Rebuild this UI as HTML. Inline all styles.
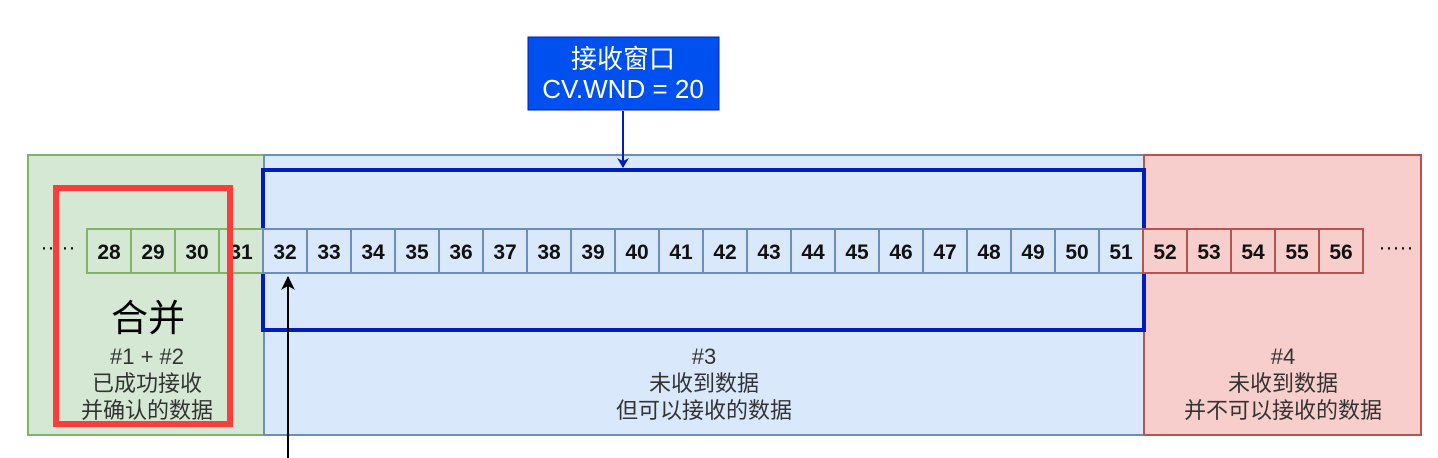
<!DOCTYPE html>
<html><head><meta charset="utf-8"><style>body{margin:0;background:#fff}svg{display:block}text{font-family:"Liberation Sans","Noto Sans CJK SC",sans-serif}</style></head><body>
<svg width="1438" height="458" viewBox="0 0 1438 458" xmlns="http://www.w3.org/2000/svg">
<defs>
<marker id="ab" markerWidth="10" markerHeight="12" refX="9" refY="6" orient="auto" markerUnits="userSpaceOnUse"><path d="M0,0 L10,6 L0,12 L3,6 z" fill="#001DBC"/></marker>
<marker id="ak" markerWidth="14" markerHeight="14" refX="13" refY="7" orient="auto" markerUnits="userSpaceOnUse"><path d="M0,0 L14,7 L0,14 L4,7 z" fill="#000"/></marker>
</defs>
<rect x="28" y="155" width="236" height="280" fill="#d5e8d4" stroke="#82b366" stroke-width="2"/>
<rect x="264" y="155" width="880" height="280" fill="#dae8fc" stroke="#6c8ebf" stroke-width="2"/>
<rect x="1144" y="155" width="277" height="280" fill="#f8cecc" stroke="#b85450" stroke-width="2"/>
<rect x="263" y="170" width="881" height="160" fill="none" stroke="#001DBC" stroke-width="4"/>
<g stroke-width="2">
<g fill="#d5e8d4" stroke="#82b366">
<rect x="87" y="229" width="44" height="44"/><rect x="131" y="229" width="44" height="44"/><rect x="175" y="229" width="44" height="44"/><rect x="219" y="229" width="44" height="44"/>
</g>
<g fill="#dae8fc" stroke="#6c8ebf">
<rect x="263" y="229" width="44" height="44"/><rect x="307" y="229" width="44" height="44"/><rect x="351" y="229" width="44" height="44"/><rect x="395" y="229" width="44" height="44"/><rect x="439" y="229" width="44" height="44"/><rect x="483" y="229" width="44" height="44"/><rect x="527" y="229" width="44" height="44"/><rect x="571" y="229" width="44" height="44"/><rect x="615" y="229" width="44" height="44"/><rect x="659" y="229" width="44" height="44"/><rect x="703" y="229" width="44" height="44"/><rect x="747" y="229" width="44" height="44"/><rect x="791" y="229" width="44" height="44"/><rect x="835" y="229" width="44" height="44"/><rect x="879" y="229" width="44" height="44"/><rect x="923" y="229" width="44" height="44"/><rect x="967" y="229" width="44" height="44"/><rect x="1011" y="229" width="44" height="44"/><rect x="1055" y="229" width="44" height="44"/><rect x="1099" y="229" width="44" height="44"/>
</g>
<g fill="#f8cecc" stroke="#b85450">
<rect x="1143" y="229" width="44" height="44"/><rect x="1187" y="229" width="44" height="44"/><rect x="1231" y="229" width="44" height="44"/><rect x="1275" y="229" width="44" height="44"/><rect x="1319" y="229" width="44" height="44"/>
</g>
</g>
<g font-size="21" font-weight="bold" text-anchor="middle" fill="#111">
<text x="109" y="259">28</text><text x="153" y="259">29</text><text x="197" y="259">30</text><text x="241" y="259">31</text>
<text x="285" y="259">32</text><text x="329" y="259">33</text><text x="373" y="259">34</text><text x="417" y="259">35</text><text x="461" y="259">36</text><text x="505" y="259">37</text><text x="549" y="259">38</text><text x="593" y="259">39</text><text x="637" y="259">40</text><text x="681" y="259">41</text><text x="725" y="259">42</text><text x="769" y="259">43</text><text x="813" y="259">44</text><text x="857" y="259">45</text><text x="901" y="259">46</text><text x="945" y="259">47</text><text x="989" y="259">48</text><text x="1033" y="259">49</text><text x="1077" y="259">50</text><text x="1121" y="259">51</text>
<text x="1165" y="259">52</text><text x="1209" y="259">53</text><text x="1253" y="259">54</text><text x="1297" y="259">55</text><text x="1341" y="259">56</text>
<text x="58" y="254" font-weight="normal">·····</text><text x="1396" y="254" font-weight="normal">·····</text>
</g>
<rect x="56" y="188" width="174" height="236" fill="none" stroke="#ff3b3b" stroke-width="6"/>
<g text-anchor="middle" fill="#333" font-size="22">
<text x="148" y="331" font-size="37" fill="#000">合并</text>
<text x="147" y="364">#1 + #2</text>
<text x="147" y="391">已成功接收</text>
<text x="147" y="418">并确认的数据</text>
<text x="704" y="364">#3</text>
<text x="704" y="391">未收到数据</text>
<text x="704" y="418">但可以接收的数据</text>
<text x="1283" y="364">#4</text>
<text x="1283" y="391">未收到数据</text>
<text x="1283" y="418">并不可以接收的数据</text>
</g>
<rect x="528" y="37" width="191" height="73" fill="#0050ef" stroke="#001DBC" stroke-width="1"/>
<g text-anchor="middle" fill="#fff" font-size="26">
<text x="623" y="68">接收窗口</text>
<text x="623" y="98">CV.WND = 20</text>
</g>
<line x1="623" y1="111" x2="623" y2="167" stroke="#001DBC" stroke-width="2" marker-end="url(#ab)"/>
<line x1="288" y1="458" x2="288" y2="277" stroke="#000" stroke-width="2" marker-end="url(#ak)"/>
</svg>
</body></html>
